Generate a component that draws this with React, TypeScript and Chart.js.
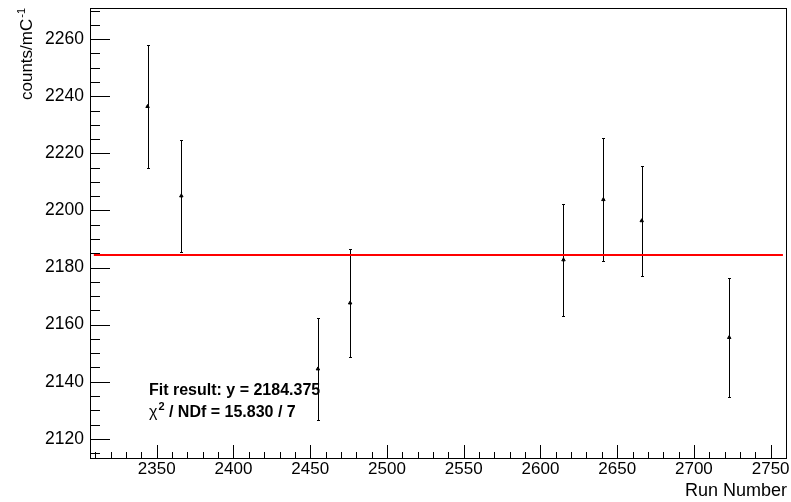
import React, { useEffect, useRef } from "react";
import { Chart, registerables } from "chart.js";

Chart.register(...registerables);

// ---- data ----
const RUNS = [2344, 2366, 2455, 2476, 2615, 2641, 2666, 2723];
const COUNTS = [2236.4, 2205.1, 2144.5, 2167.6, 2182.7, 2203.8, 2196.4, 2155.5];
const ERRORS = [21.5, 19.5, 18.0, 18.9, 19.6, 21.6, 19.3, 20.9];
const FIT_VALUE = 2184.375;
const FIT_RANGE = [2309, 2758];
const X_TICKS = [2350, 2400, 2450, 2500, 2550, 2600, 2650, 2700, 2750];
const Y_TICKS = [2120, 2140, 2160, 2180, 2200, 2220, 2240, 2260];
const X_LIMITS = [2306.5, 2760];
const Y_LIMITS = [2113.3, 2270.9];
const X_MINOR_STEP = 10;
const Y_MINOR_STEP = 5;
const FIT_TEXT = "Fit result: y = 2184.375";
const CHI2_TEXT = " / NDf = 15.830 / 7";
const X_TITLE = "Run Number";
const Y_TITLE = "counts/mC";
const Y_TITLE_SUP = "-1";

const FONT = '"Liberation Sans", Arial, Helvetica, sans-serif';

const rootPlugin = {
  id: "rootStyle",
  beforeDatasetsDraw(chart: any) {
    const ctx = chart.ctx;
    const xs = chart.scales.x;
    const ys = chart.scales.y;
    ctx.save();
    ctx.fillStyle = "#000";
    RUNS.forEach((r, i) => {
      const px = Math.round(xs.getPixelForValue(r));
      const top = Math.round(ys.getPixelForValue(COUNTS[i] + ERRORS[i]));
      const bot = Math.round(ys.getPixelForValue(COUNTS[i] - ERRORS[i]));
      ctx.fillRect(px, top, 1, bot - top + 1);
      ctx.fillRect(px - 1, top, 3, 1);
      ctx.fillRect(px - 1, bot, 3, 1);
    });
    ctx.restore();
  },
  afterDraw(chart: any) {
    const ctx = chart.ctx;
    const a = chart.chartArea;
    const xs = chart.scales.x;
    const ys = chart.scales.y;
    const L = Math.round(a.left);
    const T = Math.round(a.top);
    const R = Math.round(a.right);
    const B = Math.round(a.bottom);
    ctx.save();
    ctx.fillStyle = "#000";
    // frame
    ctx.fillRect(L, T, R - L + 1, 1);
    ctx.fillRect(L, B, R - L + 1, 1);
    ctx.fillRect(L, T, 1, B - T + 1);
    ctx.fillRect(R, T, 1, B - T + 1);
    // y ticks (inward)
    const yStart = Math.ceil(Y_LIMITS[0] / Y_MINOR_STEP) * Y_MINOR_STEP;
    for (let v = yStart; v <= Y_LIMITS[1]; v += Y_MINOR_STEP) {
      const py = Math.round(ys.getPixelForValue(v));
      const major = Y_TICKS.indexOf(v) >= 0;
      const len = major ? 20 : 10;
      ctx.fillRect(L, py, len, 1);
    }
    // x ticks (inward)
    const xStart = Math.ceil(X_LIMITS[0] / X_MINOR_STEP) * X_MINOR_STEP;
    for (let v = xStart; v <= X_LIMITS[1]; v += X_MINOR_STEP) {
      const px = Math.round(xs.getPixelForValue(v));
      const major = X_TICKS.indexOf(v) >= 0;
      const len = major ? 13 : 6;
      ctx.fillRect(px, B - len, 1, len);
    }

    // x title
    ctx.font = `18px ${FONT}`;
    ctx.textAlign = "right";
    ctx.textBaseline = "alphabetic";
    ctx.fillText(X_TITLE, R + 1, 496);

    // y title rotated
    ctx.save();
    ctx.translate(32, 100);
    ctx.rotate(-Math.PI / 2);
    ctx.textAlign = "left";
    ctx.font = `17px ${FONT}`;
    ctx.fillText(Y_TITLE, 0, 0);
    const w = ctx.measureText(Y_TITLE).width;
    ctx.font = `11px ${FONT}`;
    ctx.fillText(Y_TITLE_SUP, w + 1, -7);
    ctx.restore();

    // fit text
    ctx.textAlign = "left";
    ctx.font = `bold 16px ${FONT}`;
    const tx = 149;
    ctx.fillText(FIT_TEXT, tx, 395);
    ctx.font = `16px ${FONT}`;
    ctx.fillText("χ", tx, 417);
    const cw = ctx.measureText("χ").width;
    ctx.font = `bold 11px ${FONT}`;
    ctx.fillText("2", tx + cw + 1, 410);
    const sw = ctx.measureText("2").width;
    ctx.font = `bold 16px ${FONT}`;
    ctx.fillText(CHI2_TEXT, tx + cw + 1 + sw, 417);
    ctx.restore();
  },
};

export default function App() {
  const ref = useRef<HTMLCanvasElement | null>(null);
  useEffect(() => {
    if (!ref.current) return;
    const chart = new Chart(ref.current, {
      type: "scatter",
      data: {
        datasets: [
          {
            label: "fit",
            type: "line",
            data: FIT_RANGE.map((x) => ({ x, y: FIT_VALUE })),
            borderColor: "#ff0000",
            borderWidth: 2,
            pointRadius: 0,
            order: 1,
          } as any,
          {
            label: "data",
            data: RUNS.map((r, i) => ({ x: r, y: COUNTS[i] })),
            pointStyle: "triangle",
            pointRadius: 2,
            backgroundColor: "#000",
            borderColor: "#000",
            borderWidth: 1,
            order: 0,
          },
        ],
      },
      options: {
        responsive: false,
        animation: false,
        layout: { padding: { top: 8, right: 4, left: 0, bottom: 0 } },
        plugins: { legend: { display: false }, tooltip: { enabled: false } },
        scales: {
          x: {
            type: "linear",
            min: X_LIMITS[0],
            max: X_LIMITS[1],
            grid: { display: false, drawTicks: false },
            border: { display: false },
            afterBuildTicks: (s: any) => {
              s.ticks = X_TICKS.map((v) => ({ value: v }));
            },
            afterFit: (s: any) => {
              s.height = 44;
              s.paddingLeft = 0;
              s.paddingRight = 0;
            },
            ticks: {
              color: "#000",
              padding: 1,
              maxRotation: 0,
              autoSkip: false,
              font: { family: FONT, size: 17 },
              callback: (v: any) => String(v),
            },
          },
          y: {
            type: "linear",
            min: Y_LIMITS[0],
            max: Y_LIMITS[1],
            grid: { display: false, drawTicks: false },
            border: { display: false },
            afterBuildTicks: (s: any) => {
              s.ticks = Y_TICKS.map((v) => ({ value: v }));
            },
            afterFit: (s: any) => {
              s.width = 90;
              s.paddingTop = 0;
              s.paddingBottom = 0;
            },
            ticks: {
              color: "#000",
              padding: 6,
              autoSkip: false,
              font: { family: FONT, size: 17.5 },
              callback: (v: any) => String(v),
            },
          },
        },
      },
      plugins: [rootPlugin],
    });
    return () => chart.destroy();
  }, []);
  return (
    <div style={{ position: "absolute", left: 0, top: 0, width: 791, height: 502, background: "#fff" }}>
      <canvas ref={ref} width={791} height={502} style={{ display: "block" }} />
    </div>
  );
}
